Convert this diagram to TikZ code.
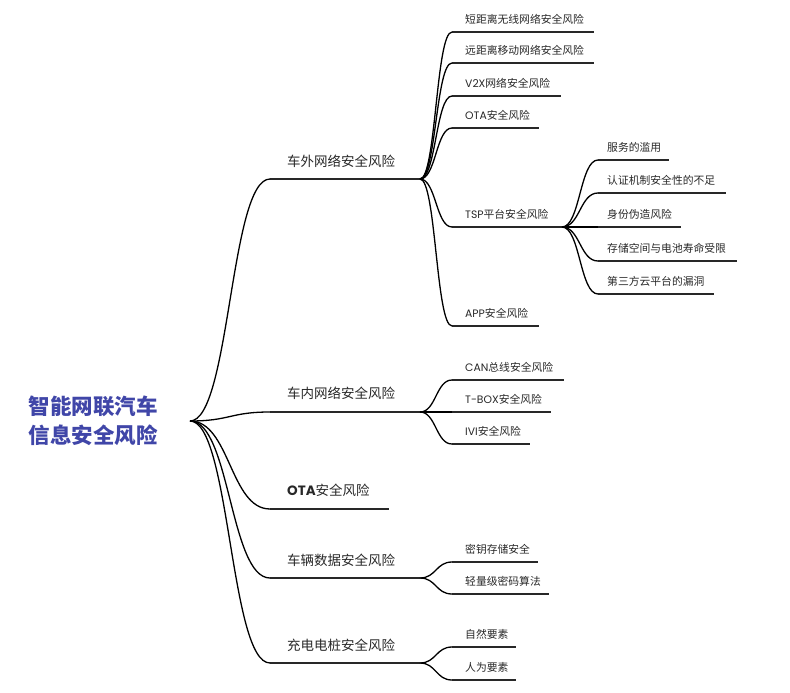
\documentclass[tikz,border=0pt]{standalone}
\usepackage{fontspec}
\setmainfont{Noto Sans CJK SC}
\newfontfamily\lat{Poppins}
\usetikzlibrary{calc}
\definecolor{rootc}{RGB}{64,70,168}
\definecolor{linec}{RGB}{40,40,40}
\definecolor{textc}{RGB}{40,40,40}
\newcommand\myconn[2]{\draw[tree] let \p1=(#1), \p2=(#2) in (#1) .. controls ({0.5*\x1+0.5*\x2},\y1) and ({0.5*\x1+0.5*\x2},\y2) .. (#2);}
\begin{document}
\begin{tikzpicture}[x=1pt,y=-1pt,
  tree/.style={line width=1.3pt,draw=black},
  ulone/.style={line width=2pt,draw=linec},
  ultwo/.style={line width=1.6pt,draw=linec},
  tone/.style={anchor=west,inner sep=0pt,text=textc,font=\fontsize{13.5}{16}\selectfont},
  ttwo/.style={anchor=west,inner sep=0pt,text=textc,font=\fontsize{10.8}{13}\selectfont},
  rootstyle/.style={inner sep=0pt,text=rootc,align=left,font=\bfseries\fontsize{21.5}{29}\selectfont}]
\useasboundingbox (0,0) rectangle (790,693);

% root
\node[rootstyle] (root) at (93,421) {智能网联汽车\\信息安全风险};
\coordinate (R) at (190,421);

% level 1 coordinates
\foreach \k/\y/\e in {A/179/420,B/412/420,C/509/389,D/578/420,E/663/420}{
  \coordinate (\k-s) at (270,\y);
  \coordinate (\k-e) at (\e,\y);
}
% level 2 coordinates
\foreach \k/\y/\e in {A1/32/594,A2/63/594,A3/96/561,A4/128/539,A5/227/562,A6/326/539,
  B1/380/564,B2/412/551,B3/444/530,D1/562/538,D2/594/549,E1/647/516,E2/680/516}{
  \coordinate (\k-s) at (452,\y);
  \coordinate (\k-e) at (\e,\y);
}
% level 3 coordinates
\foreach \k/\y/\e in {F1/160/669,F2/193/726,F3/227/681,F4/261/737,F5/294/714}{
  \coordinate (\k-s) at (598,\y);
  \coordinate (\k-e) at (\e,\y);
}

% level 1 labels
\node[tone] (A) at (287,161) {车外网络安全风险};
\node[tone] (B) at (287,393) {车内网络安全风险};
\node[tone] (C) at (287,490) {{\lat\bfseries OTA}安全风险};
\node[tone] (D) at (287,560) {车辆数据安全风险};
\node[tone] (E) at (287,645) {充电电桩安全风险};

% level 2 labels
\node[ttwo] (A1) at (465,19) {短距离无线网络安全风险};
\node[ttwo] (A2) at (465,50) {远距离移动网络安全风险};
\node[ttwo] (A3) at (465,83) {{\lat V2X}网络安全风险};
\node[ttwo] (A4) at (465,115) {{\lat OTA}安全风险};
\node[ttwo] (A5) at (465,214) {{\lat TSP}平台安全风险};
\node[ttwo] (A6) at (465,313) {{\lat APP}安全风险};
\node[ttwo] (B1) at (465,367) {{\lat CAN}总线安全风险};
\node[ttwo] (B2) at (465,399) {{\lat T-BOX}安全风险};
\node[ttwo] (B3) at (465,431) {{\lat IVI}安全风险};
\node[ttwo] (D1) at (465,549) {密钥存储安全};
\node[ttwo] (D2) at (465,581) {轻量级密码算法};
\node[ttwo] (E1) at (465,634) {自然要素};
\node[ttwo] (E2) at (465,667) {人为要素};

% level 3 labels
\node[ttwo] (F1) at (607,147) {服务的滥用};
\node[ttwo] (F2) at (607,180) {认证机制安全性的不足};
\node[ttwo] (F3) at (607,214) {身份伪造风险};
\node[ttwo] (F4) at (607,248) {存储空间与电池寿命受限};
\node[ttwo] (F5) at (607,281) {第三方云平台的漏洞};

% underlines
\foreach \k in {A,B,C,D,E}{ \draw[ulone] (\k-s) -- (\k-e); }
\foreach \k in {A1,A2,A3,A4,A5,A6,B1,B2,B3,D1,D2,E1,E2,F1,F2,F3,F4,F5}{ \draw[ultwo] (\k-s) -- (\k-e); }

% connectors
\foreach \k in {A,B,C,D,E}{ \myconn{R}{\k-s} }
\foreach \k in {A1,A2,A3,A4,A5,A6}{ \myconn{A-e}{\k-s} }
\foreach \k in {B1,B2,B3}{ \myconn{B-e}{\k-s} }
\foreach \k in {D1,D2}{ \myconn{D-e}{\k-s} }
\foreach \k in {E1,E2}{ \myconn{E-e}{\k-s} }
\foreach \k in {F1,F2,F3,F4,F5}{ \myconn{A5-e}{\k-s} }
\end{tikzpicture}
\end{document}
